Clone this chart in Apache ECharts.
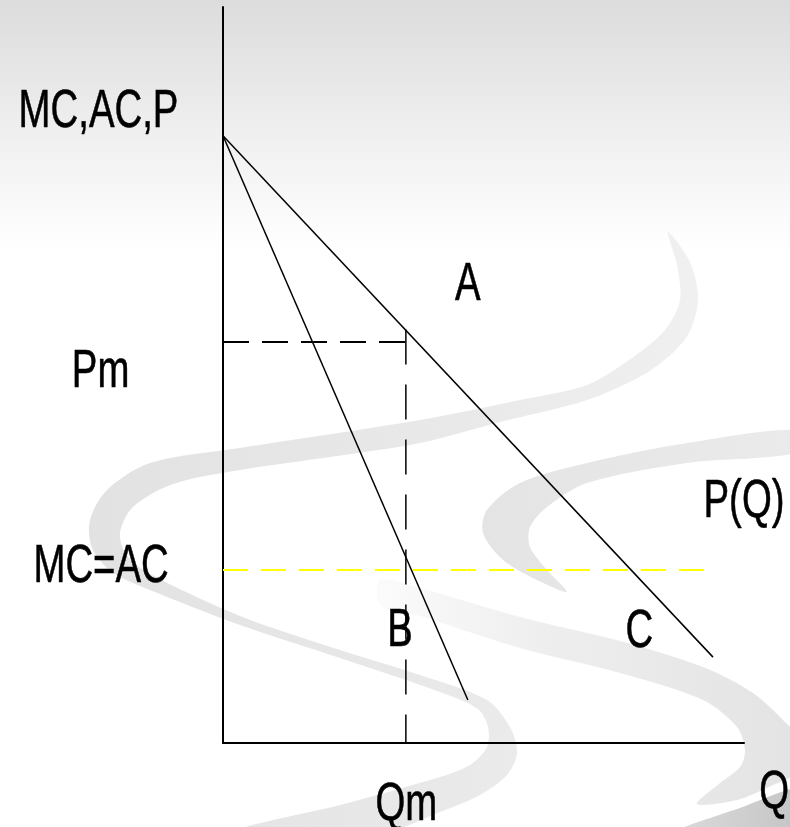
<!DOCTYPE html>
<html>
<head>
<meta charset="utf-8">
<script src="https://cdn.jsdelivr.net/npm/echarts@6/dist/echarts.min.js"></script>
<style>
  html, body { margin: 0; padding: 0; background: #fff; }
  #main { width: 790px; height: 827px; }
</style>
</head>
<body>
<div id="main"></div>
<script>
// demand curve P(Q) and marginal revenue
let demandQ = [0, 9.405];
let demandP = [9.9, 1.4];
let mrQ = [0, 4.7];
let mrP = [9.9, 0.7];
// monopoly point A
let pointA = [3.51, 6.74];
let pm = 6.54;
let qm = 3.51;
// MC = AC level and where its dashes stop
let mcLevel = 2.82;
let mcEndQ = 9.42;

// labels and their anchors in data units
let labelTexts = ['MC,AC,P', 'Pm', 'MC=AC', 'A', 'P(Q)', 'B', 'C', 'Qm', 'Q'];
let labelQ = [-2.39, -2.35, -2.34, 4.70, 10.0, 3.40, 7.99, 3.52, 10.58];
let labelP = [10.28, 6.05, 2.86, 7.46, 3.92, 1.82, 1.80, -1.01, -0.82];

let black = '#000';
let font = '54px "Liberation Sans", Arial, sans-serif';

function zip(xs, ys) {
  return xs.map((x, i) => [x, ys[i]]);
}

// slide template decoration (grey swirl)
function swirl() {
  let bg = new echarts.graphic.LinearGradient(0, 0, 0, 1, [
    { offset: 0, color: '#dcdcdc' },
    { offset: 0.15, color: '#eeeeee' },
    { offset: 0.3, color: '#ffffff' },
    { offset: 1, color: '#ffffff' }
  ]);
  let ribbon1 = [[668,232],[690,262],[698,300],[686,338],[648,372],[587,400],[500,422],[420,443],
    [330,457],[240,470],[173,484],[133,507],[120,533],[127,556],[150,574],[240,616],[340,650],
    [420,675],[487,700],[510,727],[517,753],[507,775],[480,795],[440,812],[390,830],[240,830],
    [340,805],[440,777],[470,765],[487,747],[488,727],[478,709],[440,692],[340,658],[240,625],
    [150,590],[112,572],[92,548],[90,520],[107,490],[150,463],[240,448],[420,420],[520,400],
    [587,385],[632,358],[665,330],[680,300],[677,265]];
  let ribbon2 = [[800,430],[687,443],[587,463],[520,483],[487,510],[483,533],[503,560],[537,580],
    [567,592],[547,570],[530,547],[530,527],[547,507],[587,483],[687,463],[800,452]];
  let band = [[380,580],[420,588],[520,617],[620,641],[703,667],[753,693],[785,722],[800,740],
    [800,770],[773,785],[737,800],[697,804],[720,783],[740,767],[745,750],[737,727],[703,700],
    [620,673],[520,648],[420,616],[380,605]];
  let corner = [[680,830],[740,808],[800,788],[800,830]];
  return [
    { type: 'rect', z: -100, silent: true, shape: { x: 0, y: 0, width: 790, height: 827 }, style: { fill: bg } },
    { type: 'polygon', z: -50, silent: true, shape: { points: ribbon1, smooth: 0.3 },
      style: { fill: new echarts.graphic.LinearGradient(0, 0, 1, 0, [
        { offset: 0, color: '#e2e2e2' }, { offset: 0.6, color: '#e9e9e9' }, { offset: 1, color: '#f0f0f0' }]) } },
    { type: 'polygon', z: -50, silent: true, shape: { points: ribbon2, smooth: 0.3 },
      style: { fill: new echarts.graphic.LinearGradient(0, 0, 1, 0, [
        { offset: 0, color: '#e4e4e4' }, { offset: 1, color: '#ebebeb' }]) } },
    { type: 'polygon', z: -50, silent: true, shape: { points: band, smooth: 0.3 },
      style: { fill: new echarts.graphic.LinearGradient(0, 0, 1, 0, [
        { offset: 0, color: '#fbfbfb' }, { offset: 0.4, color: '#eeeeee' }, { offset: 1, color: '#e3e3e3' }]) } },
    { type: 'polygon', z: -50, silent: true, shape: { points: corner, smooth: 0.2 },
      style: { fill: new echarts.graphic.LinearGradient(0, 0, 1, 0, [
        { offset: 0, color: '#dadada' }, { offset: 1, color: '#c4c4c4' }]) } }
  ];
}

let chart = echarts.init(document.getElementById('main'), null, { renderer: 'canvas' });

let option = {
  animation: false,
  grid: { left: 223, right: 46, top: 7, bottom: 84, containLabel: false },
  xAxis: {
    type: 'value', min: 0, max: 10,
    axisLine: { show: true, lineStyle: { color: black, width: 2 } },
    axisTick: { show: false }, axisLabel: { show: false }, splitLine: { show: false }
  },
  yAxis: {
    type: 'value', min: 0, max: 12,
    axisLine: { show: true, lineStyle: { color: black, width: 2 } },
    axisTick: { show: false }, axisLabel: { show: false }, splitLine: { show: false }
  },
  series: [
    {
      name: 'P(Q)', type: 'line', symbol: 'none', silent: true,
      data: zip(demandQ, demandP),
      lineStyle: { color: black, width: 1.5 }
    },
    {
      name: 'MR', type: 'line', symbol: 'none', silent: true,
      data: zip(mrQ, mrP),
      lineStyle: { color: black, width: 1.5 }
    },
    {
      name: 'Pm', type: 'line', symbol: 'none', silent: true,
      data: [[0, pm], [qm, pm]],
      lineStyle: { color: black, width: 2, type: [26, 13] }
    },
    {
      name: 'Qm', type: 'line', symbol: 'none', silent: true,
      data: [pointA, [qm, 0]],
      lineStyle: { color: black, width: 1.5, type: [35, 20] }
    },
    {
      name: 'MC=AC', type: 'line', symbol: 'none', silent: true,
      data: [[0, mcLevel], [mcEndQ, mcLevel]],
      lineStyle: { color: '#ffff00', width: 2, type: [25, 13] }
    }
  ],
  graphic: swirl()
};

chart.setOption(option);

// text labels placed at their data anchors, in a narrow face
let texts = labelTexts.map((t, i) => {
  let pt = chart.convertToPixel({ gridIndex: 0 }, [labelQ[i], labelP[i]]);
  return {
    type: 'text', z: 100, silent: true,
    x: pt[0], y: pt[1], scaleX: 0.71,
    style: { text: t, font: font, fill: black, stroke: black, lineWidth: 0.6,
      textAlign: 'center', textVerticalAlign: 'middle' }
  };
});
chart.setOption({ graphic: swirl().concat(texts) }, { replaceMerge: ['graphic'] });
</script>
</body>
</html>
